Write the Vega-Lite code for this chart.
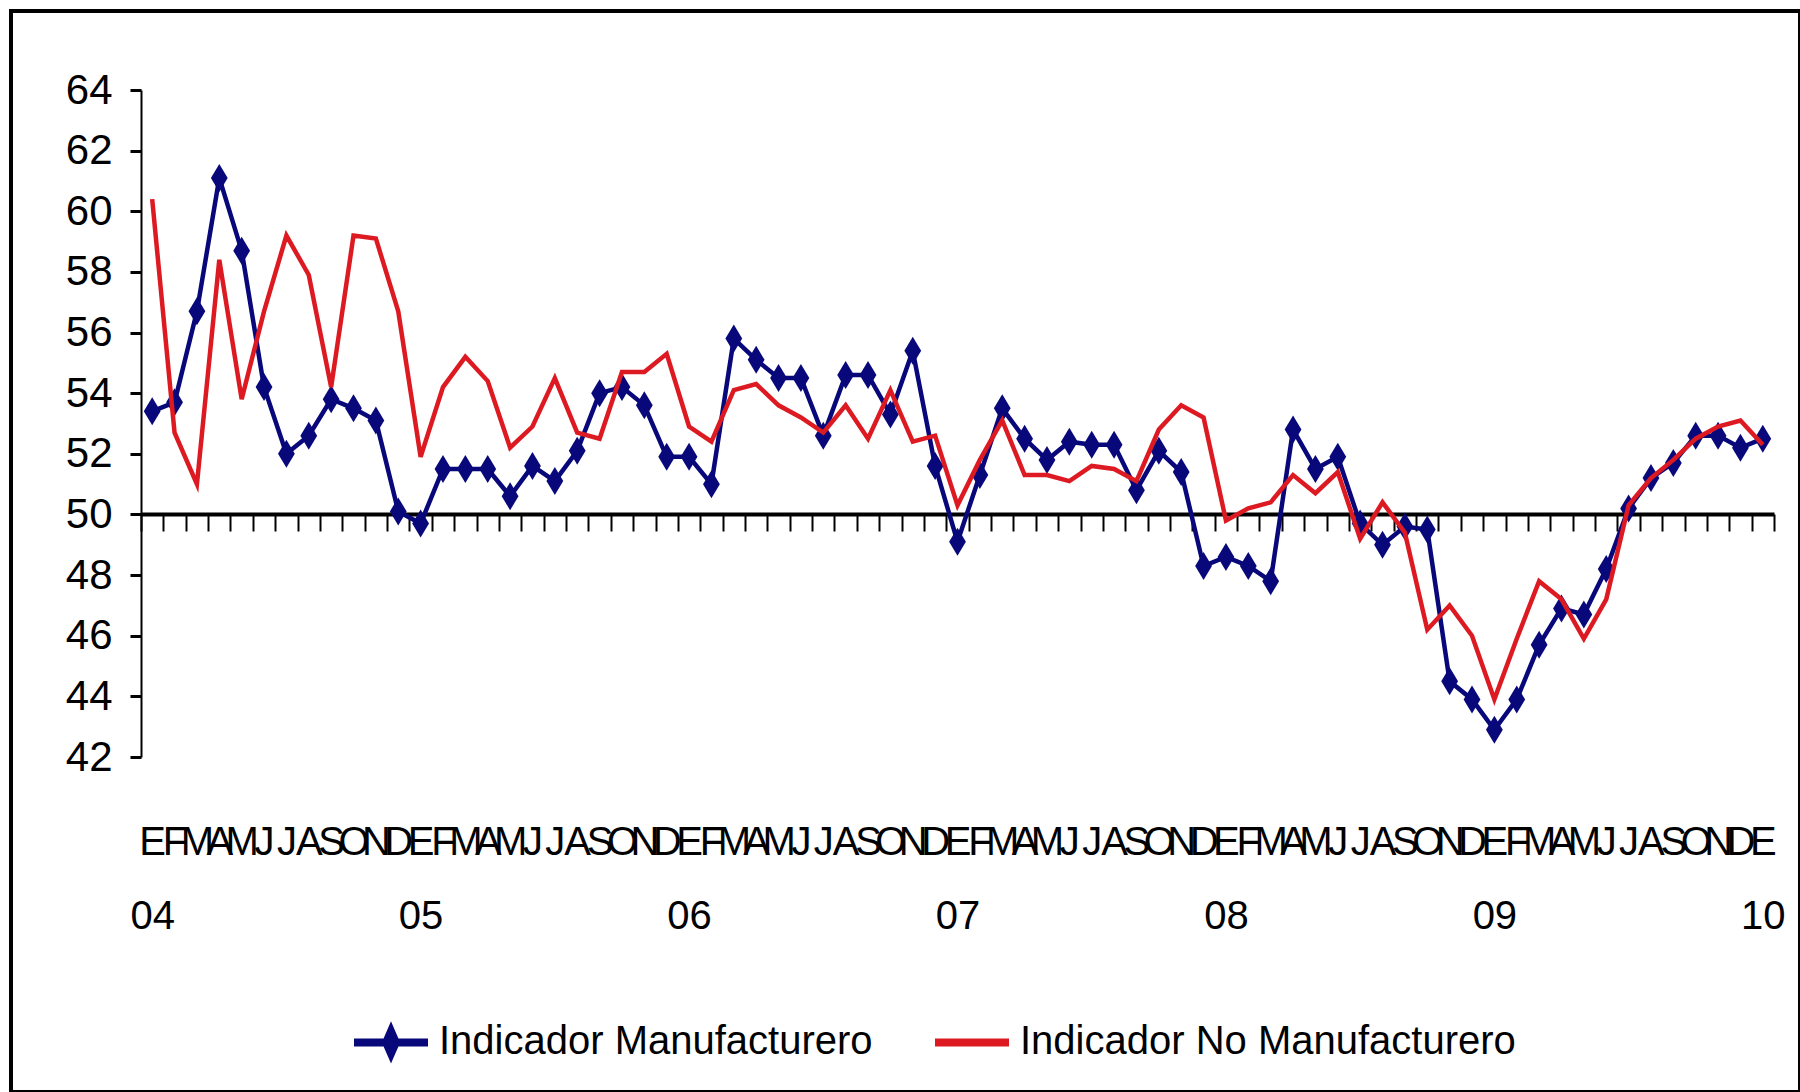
{
  "$schema": "https://vega.github.io/schema/vega-lite/v6.json",
  "width": 1789,
  "height": 1081,
  "autosize": {"type": "none"},
  "padding": {"left": 11, "top": 11, "right": 0, "bottom": 0},
  "background": "white",
  "data": {"values": [
    {"f":"2004-01","Indicador Manufacturero":53.4,"Indicador No Manufacturero":60.4},
    {"f":"2004-02","Indicador Manufacturero":53.7,"Indicador No Manufacturero":52.7},
    {"f":"2004-03","Indicador Manufacturero":56.7,"Indicador No Manufacturero":51.0},
    {"f":"2004-04","Indicador Manufacturero":61.1,"Indicador No Manufacturero":58.4},
    {"f":"2004-05","Indicador Manufacturero":58.7,"Indicador No Manufacturero":53.8},
    {"f":"2004-06","Indicador Manufacturero":54.2,"Indicador No Manufacturero":56.7},
    {"f":"2004-07","Indicador Manufacturero":52.0,"Indicador No Manufacturero":59.2},
    {"f":"2004-08","Indicador Manufacturero":52.6,"Indicador No Manufacturero":57.9},
    {"f":"2004-09","Indicador Manufacturero":53.8,"Indicador No Manufacturero":54.2},
    {"f":"2004-10","Indicador Manufacturero":53.5,"Indicador No Manufacturero":59.2},
    {"f":"2004-11","Indicador Manufacturero":53.1,"Indicador No Manufacturero":59.1},
    {"f":"2004-12","Indicador Manufacturero":50.1,"Indicador No Manufacturero":56.7},
    {"f":"2005-01","Indicador Manufacturero":49.7,"Indicador No Manufacturero":51.9},
    {"f":"2005-02","Indicador Manufacturero":51.5,"Indicador No Manufacturero":54.2},
    {"f":"2005-03","Indicador Manufacturero":51.5,"Indicador No Manufacturero":55.2},
    {"f":"2005-04","Indicador Manufacturero":51.5,"Indicador No Manufacturero":54.4},
    {"f":"2005-05","Indicador Manufacturero":50.6,"Indicador No Manufacturero":52.2},
    {"f":"2005-06","Indicador Manufacturero":51.6,"Indicador No Manufacturero":52.9},
    {"f":"2005-07","Indicador Manufacturero":51.1,"Indicador No Manufacturero":54.5},
    {"f":"2005-08","Indicador Manufacturero":52.1,"Indicador No Manufacturero":52.7},
    {"f":"2005-09","Indicador Manufacturero":54.0,"Indicador No Manufacturero":52.5},
    {"f":"2005-10","Indicador Manufacturero":54.2,"Indicador No Manufacturero":54.7},
    {"f":"2005-11","Indicador Manufacturero":53.6,"Indicador No Manufacturero":54.7},
    {"f":"2005-12","Indicador Manufacturero":51.9,"Indicador No Manufacturero":55.3},
    {"f":"2006-01","Indicador Manufacturero":51.9,"Indicador No Manufacturero":52.9},
    {"f":"2006-02","Indicador Manufacturero":51.0,"Indicador No Manufacturero":52.4},
    {"f":"2006-03","Indicador Manufacturero":55.8,"Indicador No Manufacturero":54.1},
    {"f":"2006-04","Indicador Manufacturero":55.1,"Indicador No Manufacturero":54.3},
    {"f":"2006-05","Indicador Manufacturero":54.5,"Indicador No Manufacturero":53.6},
    {"f":"2006-06","Indicador Manufacturero":54.5,"Indicador No Manufacturero":53.2},
    {"f":"2006-07","Indicador Manufacturero":52.6,"Indicador No Manufacturero":52.7},
    {"f":"2006-08","Indicador Manufacturero":54.6,"Indicador No Manufacturero":53.6},
    {"f":"2006-09","Indicador Manufacturero":54.6,"Indicador No Manufacturero":52.5},
    {"f":"2006-10","Indicador Manufacturero":53.3,"Indicador No Manufacturero":54.1},
    {"f":"2006-11","Indicador Manufacturero":55.4,"Indicador No Manufacturero":52.4},
    {"f":"2006-12","Indicador Manufacturero":51.6,"Indicador No Manufacturero":52.6},
    {"f":"2007-01","Indicador Manufacturero":49.1,"Indicador No Manufacturero":50.3},
    {"f":"2007-02","Indicador Manufacturero":51.3,"Indicador No Manufacturero":51.8},
    {"f":"2007-03","Indicador Manufacturero":53.5,"Indicador No Manufacturero":53.1},
    {"f":"2007-04","Indicador Manufacturero":52.5,"Indicador No Manufacturero":51.3},
    {"f":"2007-05","Indicador Manufacturero":51.8,"Indicador No Manufacturero":51.3},
    {"f":"2007-06","Indicador Manufacturero":52.4,"Indicador No Manufacturero":51.1},
    {"f":"2007-07","Indicador Manufacturero":52.3,"Indicador No Manufacturero":51.6},
    {"f":"2007-08","Indicador Manufacturero":52.3,"Indicador No Manufacturero":51.5},
    {"f":"2007-09","Indicador Manufacturero":50.8,"Indicador No Manufacturero":51.1},
    {"f":"2007-10","Indicador Manufacturero":52.1,"Indicador No Manufacturero":52.8},
    {"f":"2007-11","Indicador Manufacturero":51.4,"Indicador No Manufacturero":53.6},
    {"f":"2007-12","Indicador Manufacturero":48.3,"Indicador No Manufacturero":53.2},
    {"f":"2008-01","Indicador Manufacturero":48.6,"Indicador No Manufacturero":49.8},
    {"f":"2008-02","Indicador Manufacturero":48.3,"Indicador No Manufacturero":50.2},
    {"f":"2008-03","Indicador Manufacturero":47.8,"Indicador No Manufacturero":50.4},
    {"f":"2008-04","Indicador Manufacturero":52.8,"Indicador No Manufacturero":51.3},
    {"f":"2008-05","Indicador Manufacturero":51.5,"Indicador No Manufacturero":50.7},
    {"f":"2008-06","Indicador Manufacturero":51.9,"Indicador No Manufacturero":51.4},
    {"f":"2008-07","Indicador Manufacturero":49.7,"Indicador No Manufacturero":49.2},
    {"f":"2008-08","Indicador Manufacturero":49.0,"Indicador No Manufacturero":50.4},
    {"f":"2008-09","Indicador Manufacturero":49.6,"Indicador No Manufacturero":49.4},
    {"f":"2008-10","Indicador Manufacturero":49.5,"Indicador No Manufacturero":46.2},
    {"f":"2008-11","Indicador Manufacturero":44.5,"Indicador No Manufacturero":47.0},
    {"f":"2008-12","Indicador Manufacturero":43.9,"Indicador No Manufacturero":46.0},
    {"f":"2009-01","Indicador Manufacturero":42.9,"Indicador No Manufacturero":43.9},
    {"f":"2009-02","Indicador Manufacturero":43.9,"Indicador No Manufacturero":45.9},
    {"f":"2009-03","Indicador Manufacturero":45.7,"Indicador No Manufacturero":47.8},
    {"f":"2009-04","Indicador Manufacturero":46.9,"Indicador No Manufacturero":47.2},
    {"f":"2009-05","Indicador Manufacturero":46.7,"Indicador No Manufacturero":45.9},
    {"f":"2009-06","Indicador Manufacturero":48.2,"Indicador No Manufacturero":47.2},
    {"f":"2009-07","Indicador Manufacturero":50.2,"Indicador No Manufacturero":50.3},
    {"f":"2009-08","Indicador Manufacturero":51.2,"Indicador No Manufacturero":51.2},
    {"f":"2009-09","Indicador Manufacturero":51.7,"Indicador No Manufacturero":51.8},
    {"f":"2009-10","Indicador Manufacturero":52.6,"Indicador No Manufacturero":52.5},
    {"f":"2009-11","Indicador Manufacturero":52.6,"Indicador No Manufacturero":52.9},
    {"f":"2009-12","Indicador Manufacturero":52.2,"Indicador No Manufacturero":53.1},
    {"f":"2010-01","Indicador Manufacturero":52.5,"Indicador No Manufacturero":52.3}
  ]},
  "transform": [
    {"fold": ["Indicador Manufacturero", "Indicador No Manufacturero"], "as": ["serie", "valor"]}
  ],
  "encoding": {
    "x": {
      "field": "f", "type": "ordinal", "sort": null,
      "scale": {"type": "band", "paddingInner": 0, "paddingOuter": 0, "range": [130, 1763]},
      "axis": {
        "title": null, "orient": "bottom", "offset": -578,
        "domainColor": "black", "domainWidth": 4,
        "tickColor": "black", "tickWidth": 2, "tickSize": 17, "tickBand": "extent",
        "labelAngle": 0, "labelAlign": "center", "labelBaseline": "top",
        "labelPadding": 291, "labelLineHeight": 74,
        "labelFont": "Liberation Sans", "labelFontSize": 40, "labelColor": "black",
        "labelOverlap": false, "labelBound": false, "labelFlush": false,
        "labelExpr": "substring(datum.value,5,7) == '01' ? ['E', substring(datum.value,2,4)] : substring('EFMAMJJASOND', toNumber(substring(datum.value,5,7)) - 1, toNumber(substring(datum.value,5,7)))"
      }
    },
    "y": {
      "field": "valor", "type": "quantitative",
      "scale": {"domain": [42, 64], "range": [746, 79], "nice": false, "zero": false},
      "axis": {
        "title": null, "orient": "left", "offset": -130,
        "values": [42, 44, 46, 48, 50, 52, 54, 56, 58, 60, 62, 64],
        "grid": false,
        "domainColor": "black", "domainWidth": 2,
        "tickColor": "black", "tickWidth": 3, "tickSize": 11,
        "labelPadding": 18, "labelFont": "Liberation Sans", "labelFontSize": 42,
        "labelColor": "black", "labelFlush": false, "labelOverlap": false
      }
    },
    "color": {
      "field": "serie", "type": "nominal",
      "scale": {"domain": ["Indicador Manufacturero", "Indicador No Manufacturero"], "range": ["#08087a", "#dd1a22"]},
      "legend": {
        "title": null, "orient": "none", "legendX": 339, "legendY": 990,
        "direction": "horizontal", "padding": 0,
        "symbolType": "stroke", "symbolSize": 5476, "symbolStrokeWidth": 8,
        "labelFont": "Liberation Sans", "labelFontSize": 40, "labelColor": "black",
        "labelOffset": 7, "columnPadding": 46, "labelLimit": 1000,
        "encode": {
          "symbols": {
            "update": {
              "shape": {"signal": "datum.value === 'Indicador Manufacturero' ? 'M-1,0H1M0,-0.3L0.13,0L0,0.3L-0.13,0Z' : 'M-1,0H1M0,-0.3L0,-0.3M0,0.3L0,0.3'"},
              "stroke": {"signal": "scale('color', datum.value)"},
              "fill": {"signal": "datum.value === 'Indicador Manufacturero' ? scale('color', datum.value) : 'transparent'"},
              "strokeWidth": {"value": 8},
              "opacity": {"value": 1}
            }
          }
        }
      }
    }
  },
  "layer": [
    {
      "transform": [{"filter": "datum.serie == 'Indicador Manufacturero'"}],
      "mark": {"type": "line", "strokeWidth": 4.5}
    },
    {
      "transform": [{"filter": "datum.serie == 'Indicador Manufacturero'"}],
      "mark": {"type": "point", "shape": "M0,-1L0.6,0L0,1L-0.6,0Z", "size": 784, "filled": true, "opacity": 1}
    },
    {
      "transform": [{"filter": "datum.serie == 'Indicador No Manufacturero'"}],
      "mark": {"type": "line", "strokeWidth": 4.5}
    }
  ],
  "config": {
    "view": {"stroke": "black", "strokeWidth": 4},
    "font": "Liberation Sans"
  }
}
